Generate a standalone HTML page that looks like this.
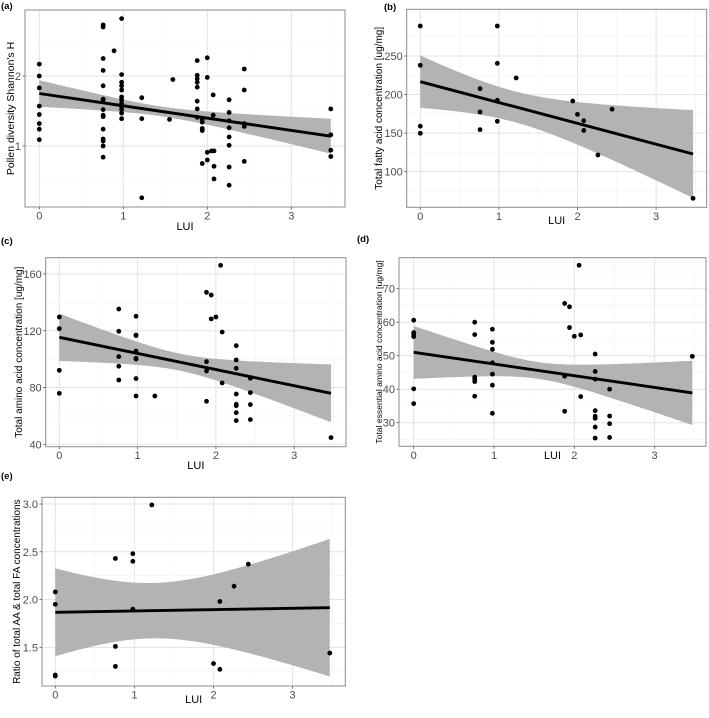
<!DOCTYPE html>
<html><head><meta charset="utf-8">
<style>
html,body{margin:0;padding:0;background:#fff;}
svg text{font-family:"Liberation Sans",sans-serif;}
</style></head>
<body>
<svg id="fig" width="709" height="713" viewBox="0 0 709 713" xmlns="http://www.w3.org/2000/svg"></svg>
<script>
// ---------- Panel (a) data ----------
const aX = [0,0,0,0,0,0,0,0,
 0.76,0.76,0.76,0.76,0.76,0.76,0.76,0.76,0.76,0.76,0.76,0.76,0.76,0.76,0.76,
 0.89,
 0.98,0.98,0.98,0.98,0.98,0.98,0.98,0.98,0.98,0.98,0.98,0.98,
 1.22,1.22,1.22,1.55,1.59,
 1.88,1.88,1.88,1.88,1.88,1.88,1.88,1.88,
 1.94,1.94,1.94,1.94,1.94,
 2.0,2.0,2.0,2.0,
 2.07,2.07,2.05,2.08,2.08,2.08,
 2.26,2.26,2.26,2.26,2.26,2.26,2.26,2.26,
 2.44,2.44,2.44,2.44,2.44,
 3.47,3.47,3.47,3.47];
const aY = [2.17,2.0,1.83,1.57,1.45,1.32,1.24,1.09,
 2.73,2.70,2.25,2.08,1.86,1.67,1.66,1.52,1.44,1.42,1.24,1.10,1.07,1.0,0.84,
 2.36,
 2.82,2.02,1.91,1.86,1.80,1.70,1.66,1.61,1.56,1.52,1.47,1.39,
 1.69,1.39,0.26,1.38,1.95,
 2.22,2.01,1.96,1.91,1.84,1.64,1.53,1.41,
 1.38,1.34,1.25,1.22,0.75,
 2.26,1.98,0.91,0.80,
 1.73,1.44,0.93,0.93,0.71,0.53,
 1.66,1.48,1.36,1.26,1.13,1.01,0.70,0.44,
 2.10,1.80,1.32,1.28,0.78,
 1.53,1.16,0.94,0.85];
const aFit = [1.75, 1.14];
const aBand = [0.19, 0.07, 0.25];
const aYTicks = [1, 2];
const aYMinor = [0.5, 1.5, 2.5];

// ---------- Panel (b) data ----------
const bX = [0,0,0,0, 0.76,0.76,0.76, 0.98,0.98,0.98,0.98, 1.22, 1.94, 2.0, 2.08,2.08, 2.26, 2.44, 3.47];
const bY = [288.9,237.9,159,149.7, 207.6,177.4,154.5, 288.9,240.5,192.5,165.3, 221.5, 191.6, 174.3, 166.1,153.5, 121.6, 181, 65.4];
const bFit = [216.7, 122.9];
const bBand = [34, 20, 57];
const bYTicks = [100,150,200,250];
const bYMinor = [75,125,175,225,275];

// ---------- Panel (c) data ----------
const cX = [0,0,0,0, 0.76,0.76,0.76,0.76,0.76, 0.98,0.98,0.98,0.98,0.98,0.98,0.98,0.98, 1.22,
 1.88,1.88,1.88,1.88, 1.94,1.94, 2.0, 2.06, 2.08,2.08,
 2.26,2.26,2.26,2.26,2.26,2.26,2.26,2.26, 2.44,2.44,2.44,2.44, 3.47];
const cY = [129.7,121.5,92.1,75.9, 135.3,119.6,101.8,95.0,85.3, 130.2,117.0,116.6,105.7,100.6,100.1,86.3,74.0, 74.0,
 147.1,98.2,91.7,70.3, 145.2,128.3, 129.7, 166.1, 119.1,83.2,
 109.5,99.4,93.5,75.4,68.2,67.2,62.3,56.7, 86.5,76.4,68.0,57.4, 44.7];
const cFit = [115.4, 75.9];
const cBand = [16.7, 6, 20.4];
const cYTicks = [40,80,120,160];
const cYMinor = [60,100,140];

// ---------- Panel (d) data ----------
const dX = [0,0,0,0,0,0, 0.76,0.76,0.76,0.76,0.76,0.76, 0.98,0.98,0.98,0.98,0.98,0.98,0.98,
 1.88,1.88,1.88, 1.94,1.94, 2.0, 2.06, 2.08,2.08,
 2.26,2.26,2.26,2.26,2.26,2.26,2.26,2.26, 2.44,2.44,2.44,2.44, 3.47];
const dY = [60.6,56.9,56.2,55.7,40.1,35.7, 60.0,56.3,43.6,43.0,42.3,37.9, 57.9,54.0,51.9,47.9,44.5,41.2,32.8,
 65.6,43.9,33.4, 64.6,58.4, 55.8, 77.0, 56.2,37.8,
 50.5,45.3,43.0,33.6,31.9,31.3,28.7,25.4, 40.0,32.0,29.7,25.6, 49.8];
const dFit = [51.0, 38.9];
const dBand = [7.9, 2.5, 9.6];
const dYTicks = [30,40,50,60,70];
const dYMinor = [25,35,45,55,65,75];

// ---------- Panel (e) data ----------
const eX = [0,0,0,0, 0.76,0.76,0.76, 0.98,0.98,0.98, 1.22, 2.0, 2.08,2.08, 2.26, 2.44, 3.47];
const eY = [2.08,1.95,1.21,1.20, 2.43,1.51,1.30, 2.48,2.40,1.90, 2.99, 1.33, 1.98,1.27, 2.14, 2.37, 1.44];
const eFit = [1.867, 1.915];
const eBand = [0.46, 0.29, 0.72];
const eYTicks = [1.5,2.0,2.5,3.0];
const eYMinor = [1.25,1.75,2.25,2.75];

const xTicks = [0,1,2,3];
const xMinor = [0.5,1.5,2.5,3.5];
const XMAX = 3.47;

const NS = "http://www.w3.org/2000/svg";
const svg = document.getElementById('fig');
function mk(tag, attrs, parent){
  const e = document.createElementNS(NS, tag);
  for (const k in attrs) e.setAttribute(k, attrs[k]);
  (parent||svg).appendChild(e);
  return e;
}

function panel(cfg){
  const g = mk('g', {});
  
  
  const [L,T,R,B] = cfg.box;
  const xs = v => cfg.x0 + cfg.xk * v;
  const ys = v => cfg.yRefPx + (cfg.yRef - v) * cfg.yk;
  mk('rect', {x:L,y:T,width:R-L,height:B-T,fill:'#fff'}, g);
  const grid = mk('g', {}, g);
  
  
  cfg.yMinor.forEach(v => { const y = ys(v); if (y>T && y<B) mk('line',{x1:L,x2:R,y1:y,y2:y,stroke:'#f2f2f2','stroke-width':0.6},grid); });
  xMinor.forEach(v => { const x = xs(v); if (x>L && x<R) mk('line',{x1:x,x2:x,y1:T,y2:B,stroke:'#f2f2f2','stroke-width':0.6},grid); });
  cfg.yTicks.forEach(v => mk('line',{x1:L,x2:R,y1:ys(v),y2:ys(v),stroke:'#e3e3e3','stroke-width':1},grid));
  xTicks.forEach(v => mk('line',{x1:xs(v),x2:xs(v),y1:T,y2:B,stroke:'#e3e3e3','stroke-width':1},grid));

  const [h0,hm,h1] = cfg.band;
  const r = Math.sqrt((h0*h0-hm*hm)/(h1*h1-hm*hm));
  const xm = XMAX * r/(1+r);
  const c = (h0*h0-hm*hm)/(xm*xm);
  const fit = v => cfg.fit[0] + (cfg.fit[1]-cfg.fit[0]) * v / XMAX;
  const hw = v => Math.sqrt(hm*hm + c*(v-xm)*(v-xm));
  let up = [], lo = [];
  for (let i=0;i<=60;i++){ const v = XMAX*i/60; up.push(xs(v)+','+ys(fit(v)+hw(v))); lo.unshift(xs(v)+','+ys(fit(v)-hw(v))); }
  const band = mk('polygon',{points:up.concat(lo).join(' '),fill:'#b3b3b3'},g);
  
  

  cfg.xs.forEach((v,i) => {
    const p = mk('circle',{cx:xs(v),cy:ys(cfg.ys[i]),r:2.4,fill:'#000'},g);
    
    
  });
  const ln = mk('line',{x1:xs(0),y1:ys(fit(0)),x2:xs(XMAX),y2:ys(fit(XMAX)),stroke:'#000','stroke-width':2.9},g);
  
  

  mk('rect',{x:L,y:T,width:R-L,height:B-T,fill:'none',stroke:'#8c8c8c','stroke-width':1},g);

  cfg.yTicks.forEach(v => {
    mk('line',{x1:L-2.5,x2:L,y1:ys(v),y2:ys(v),stroke:'#555','stroke-width':0.8},g);
    const t = mk('text',{x:L-4,y:ys(v)+4,'text-anchor':'end','font-size':11,fill:'#4d4d4d'},g);
    t.textContent = (cfg.yFmt ? v.toFixed(1) : String(v));
    
    
  });
  xTicks.forEach(v => {
    mk('line',{x1:xs(v),x2:xs(v),y1:B,y2:B+2.5,stroke:'#555','stroke-width':0.8},g);
    const t = mk('text',{x:xs(v),y:B+12.5,'text-anchor':'middle','font-size':11,fill:'#4d4d4d'},g);
    t.textContent = String(v);
    
    
  });
  const xt = mk('text',{x:(L+R)/2,y:cfg.xTitleY,'text-anchor':'middle','font-size':11,fill:'#000'},g);
  xt.textContent = 'LUI';
  
  
  const yt = mk('text',{x:0,y:0,'text-anchor':'middle','font-size':cfg.yTitleSize,fill:'#000',
     transform:'translate('+cfg.yTitleX+','+((T+B)/2)+') rotate(-90)'},g);
  yt.textContent = cfg.yTitle;
  
  
  const pl = mk('text',{x:cfg.lab[0],y:cfg.lab[1],'font-size':9.5,'font-weight':'bold',fill:'#000'},g);
  pl.textContent = '(' + cfg.id + ')';
  
  
}

panel({id:'a',box:[25,10,345,207],x0:39.3,xk:84,yRef:2,yRefPx:76,yk:70,yTicks:aYTicks,yMinor:aYMinor,
  xs:aX,ys:aY,fit:aFit,band:aBand,xTitleY:230,yTitle:"Pollen diversity Shannon's H",yTitleX:14,yTitleSize:10.5,lab:[1,9]});
panel({id:'b',box:[406.7,9.3,706.7,207.3],x0:420.3,xk:78.6,yRef:250,yRefPx:56,yk:0.771,yTicks:bYTicks,yMinor:bYMinor,
  xs:bX,ys:bY,fit:bFit,band:bBand,xTitleY:224,yTitle:"Total fatty acid concentration [ug/mg]",yTitleX:382,yTitleSize:10,lab:[384,10]});
panel({id:'c',box:[45.7,257.7,346,446.7],x0:59.3,xk:78.3,yRef:160,yRefPx:274,yk:1.419,yTicks:cYTicks,yMinor:cYMinor,
  xs:cX,ys:cY,fit:cFit,band:cBand,xTitleY:469,yTitle:"Total amino acid concentration [ug/mg]",yTitleX:22,yTitleSize:10,lab:[1,244]});
panel({id:'d',box:[399,257.7,706,446.3],x0:413.7,xk:80.3,yRef:70,yRefPx:288.7,yk:3.35,yTicks:dYTicks,yMinor:dYMinor,
  xs:dX,ys:dY,fit:dFit,band:dBand,xTitleY:459,yTitle:"Total essential amino acid concentration [ug/mg]",yTitleX:382,yTitleSize:8.6,lab:[357,242]});
panel({id:'e',box:[42,497.3,345.3,686],x0:55.3,xk:79.1,yRef:3.0,yRefPx:504,yk:95.56,yTicks:eYTicks,yMinor:eYMinor,yFmt:true,
  xs:eX,ys:eY,fit:eFit,band:eBand,xTitleY:703,yTitle:"Ratio of total AA & total FA concentrations",yTitleX:20,yTitleSize:10,lab:[1,479]});
</script>
</body></html>
